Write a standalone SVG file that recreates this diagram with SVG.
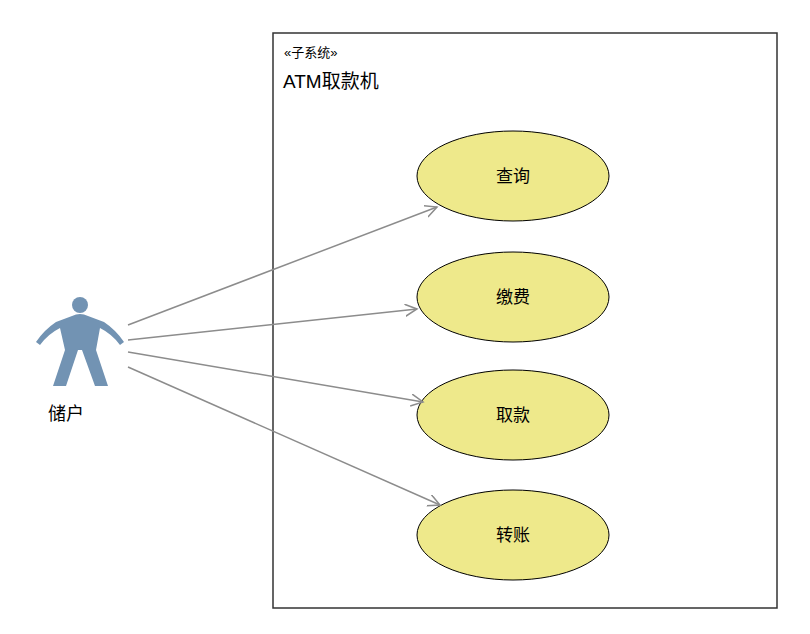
<svg xmlns="http://www.w3.org/2000/svg" width="810" height="634" viewBox="0 0 810 634">
<style>
.t{font-family:"Liberation Sans","Noto Sans CJK SC",sans-serif;fill:#000}
.uc{fill:#eee98b;stroke:#000;stroke-width:1}
.c{stroke:#8c8c8c;stroke-width:1.5;fill:none;marker-end:url(#a)}
</style>
<defs><marker id="a" markerWidth="14" markerHeight="14" refX="12" refY="6" orient="auto" markerUnits="userSpaceOnUse"><path d="M0,0 L12,6 L0,12" fill="none" stroke="#8c8c8c" stroke-width="1.5"/></marker></defs>
<rect width="810" height="634" fill="#fff"/>
<g id="system"><rect x="273" y="33" width="504" height="575" fill="#fff" stroke="#333" stroke-width="1.5"/>
<text class="t" x="284" y="57" font-size="13">«子系统»</text>
<text class="t" x="283" y="88" font-size="19">ATM取款机</text></g>
<g id="actor">
<circle cx="80" cy="305" r="8" fill="#7293b3"/>
<path d="M72,316 Q80,312 88,316 L104,322 Q116,330 124,342 L120,345 Q112,334 100,328 L96,350 L108,386 L95,386 L82,350 L78,350 L66,386 L53,386 L65,350 L60,328 Q48,334 40,345 L36,342 Q44,330 56,322 Z" fill="#7293b3"/>
<text class="t" x="48" y="420" font-size="18">储户</text></g>
<g id="uc1"><ellipse class="uc" cx="513" cy="176" rx="96" ry="45"/><text class="t" x="513" y="182" font-size="17" text-anchor="middle">查询</text></g>
<g id="uc2"><ellipse class="uc" cx="513" cy="297" rx="96" ry="45"/><text class="t" x="513" y="303" font-size="17" text-anchor="middle">缴费</text></g>
<g id="uc3"><ellipse class="uc" cx="513" cy="415" rx="96" ry="45"/><text class="t" x="513" y="421" font-size="17" text-anchor="middle">取款</text></g>
<g id="uc4"><ellipse class="uc" cx="513" cy="535" rx="96" ry="45"/><text class="t" x="513" y="541" font-size="17" text-anchor="middle">转账</text></g>
<g id="connectors">
<line class="c" x1="128" y1="325" x2="437" y2="207"/>
<line class="c" x1="128" y1="340" x2="417" y2="309"/>
<line class="c" x1="128" y1="352" x2="423" y2="402"/>
<line class="c" x1="128" y1="367" x2="440" y2="505"/>
</g>
</svg>
